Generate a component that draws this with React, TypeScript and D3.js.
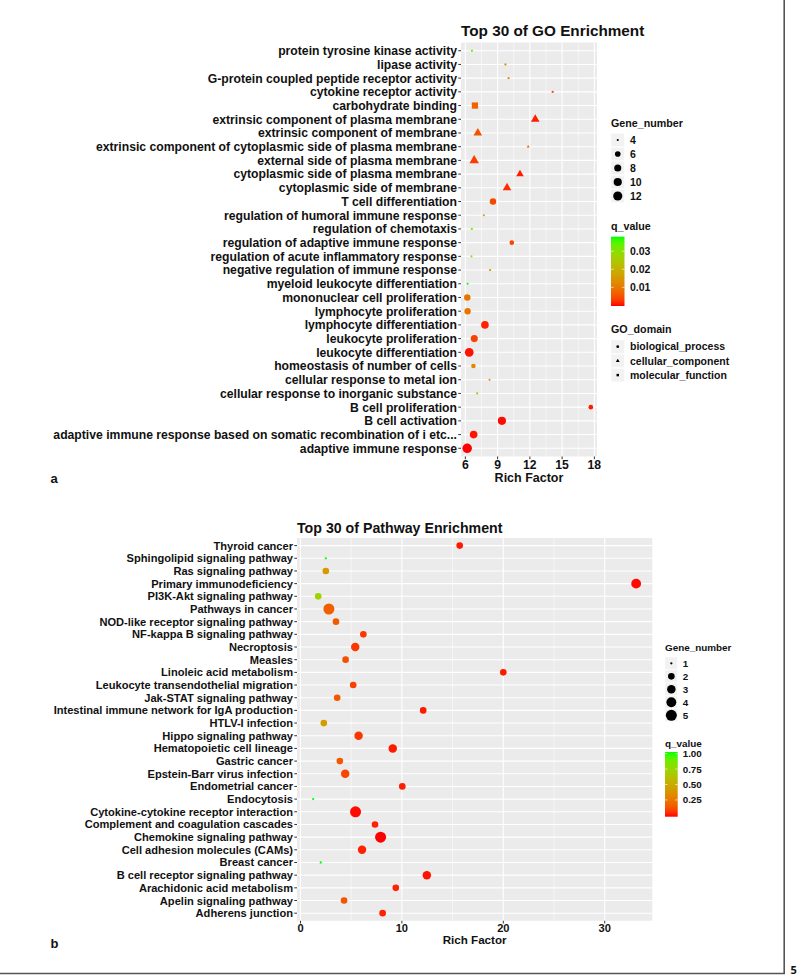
import React from "react";
import * as d3 from "d3";

// ---------- Panel a: GO enrichment (listed top to bottom) ----------
const goTerms = [
  "protein tyrosine kinase activity",
  "lipase activity",
  "G-protein coupled peptide receptor activity",
  "cytokine receptor activity",
  "carbohydrate binding",
  "extrinsic component of plasma membrane",
  "extrinsic component of membrane",
  "extrinsic component of cytoplasmic side of plasma membrane",
  "external side of plasma membrane",
  "cytoplasmic side of plasma membrane",
  "cytoplasmic side of membrane",
  "T cell differentiation",
  "regulation of humoral immune response",
  "regulation of chemotaxis",
  "regulation of adaptive immune response",
  "regulation of acute inflammatory response",
  "negative regulation of immune response",
  "myeloid leukocyte differentiation",
  "mononuclear cell proliferation",
  "lymphocyte proliferation",
  "lymphocyte differentiation",
  "leukocyte proliferation",
  "leukocyte differentiation",
  "homeostasis of number of cells",
  "cellular response to metal ion",
  "cellular response to inorganic substance",
  "B cell proliferation",
  "B cell activation",
  "adaptive immune response based on somatic recombination of i etc...",
  "adaptive immune response",
];
const goRichFactor = [
  6.61, 9.73, 10.02, 14.12, 6.89, 12.5, 7.16, 11.84, 6.82, 11.08, 9.88, 8.57, 7.72, 6.6, 10.32,
  6.57, 8.3, 6.21, 6.18, 6.21, 7.82, 6.83, 6.36, 6.75, 8.25, 7.1, 17.67, 9.4, 6.77, 6.17,
];
const goGeneNumber = [
  4, 4, 4, 4, 8, 7, 7, 4, 8, 6, 7, 7, 4, 4, 5, 4, 4, 4, 7, 7, 9, 8, 11, 5, 4, 4, 5, 10, 9, 13,
];
const goQValue = [
  0.031, 0.0108, 0.011, 0.0035, 0.0068, 0.0013, 0.005, 0.0065, 0.003, 0.0012, 0.002, 0.004,
  0.0174, 0.031, 0.0038, 0.031, 0.0145, 0.0371, 0.0094, 0.0094, 0.0015, 0.0035, 0.0009, 0.0123,
  0.0145, 0.024, 0.0012, 0.0008, 0.001, 0.0006,
];
const goDomainOf = [
  "molecular_function", "molecular_function", "molecular_function", "molecular_function", "molecular_function",
  "cellular_component", "cellular_component", "cellular_component", "cellular_component", "cellular_component", "cellular_component",
  "biological_process", "biological_process", "biological_process", "biological_process", "biological_process",
  "biological_process", "biological_process", "biological_process", "biological_process", "biological_process",
  "biological_process", "biological_process", "biological_process", "biological_process", "biological_process",
  "biological_process", "biological_process", "biological_process", "biological_process",
];
const goDomains = ["biological_process", "cellular_component", "molecular_function"];
const goXTicks = [6, 9, 12, 15, 18];
const goSizeBreaks = [4, 6, 8, 10, 12];
const goQBreaks = [0.01, 0.02, 0.03];
const goQLabels = ["0.01", "0.02", "0.03"];

// ---------- Panel b: Pathway enrichment (listed top to bottom) ----------
const pathTerms = [
  "Thyroid cancer",
  "Sphingolipid signaling pathway",
  "Ras signaling pathway",
  "Primary immunodeficiency",
  "PI3K-Akt signaling pathway",
  "Pathways in cancer",
  "NOD-like receptor signaling pathway",
  "NF-kappa B signaling pathway",
  "Necroptosis",
  "Measles",
  "Linoleic acid metabolism",
  "Leukocyte transendothelial migration",
  "Jak-STAT signaling pathway",
  "Intestinal immune network for IgA production",
  "HTLV-I infection",
  "Hippo signaling pathway",
  "Hematopoietic cell lineage",
  "Gastric cancer",
  "Epstein-Barr virus infection",
  "Endometrial cancer",
  "Endocytosis",
  "Cytokine-cytokine receptor interaction",
  "Complement and coagulation cascades",
  "Chemokine signaling pathway",
  "Cell adhesion molecules (CAMs)",
  "Breast cancer",
  "B cell receptor signaling pathway",
  "Arachidonic acid metabolism",
  "Apelin signaling pathway",
  "Adherens junction",
];
const pathRichFactor = [
  15.7, 2.5, 2.5, 33.1, 1.75, 2.8, 3.5, 6.2, 5.4, 4.45, 20.0, 5.2, 3.62, 12.1, 2.3, 5.73, 9.1,
  3.88, 4.41, 10.04, 1.25, 5.43, 7.35, 7.9, 6.07, 2.0, 12.46, 9.4, 4.3, 8.1,
];
const pathGeneNumber = [
  2, 1, 2, 4, 2, 5, 2, 2, 3, 2, 2, 2, 2, 2, 2, 3, 3, 2, 3, 2, 1, 5, 2, 5, 3, 1, 3, 2, 2, 2,
];
const pathQValue = [
  0.02, 1.0, 0.4, 0.01, 0.72, 0.17, 0.15, 0.06, 0.06, 0.11, 0.02, 0.08, 0.14, 0.02, 0.42, 0.06,
  0.02, 0.14, 0.09, 0.025, 1.0, 0.01, 0.03, 0.005, 0.03, 1.0, 0.015, 0.03, 0.13, 0.03,
];
const pathXTicks = [0, 10, 20, 30];
const pathSizeBreaks = [1, 2, 3, 4, 5];
const pathQBreaks = [0.25, 0.5, 0.75, 1.0];
const pathQLabels = ["0.25", "0.50", "0.75", "1.00"];

const FONT = "'Liberation Sans', Arial, Helvetica, sans-serif";

type PanelCfg = {
  id: string;
  terms: string[];
  rich: number[];
  genes: number[];
  qv: number[];
  domainOf?: string[];
  domains?: string[];
  xTicks: number[];
  sizeBreaks: number[];
  qBreaks: number[];
  qLabels: string[];
  title: string;
  left: number; right: number; top: number; bottom: number;
  labelSize: number; titleSize: number; titleY: number;
  tickY: number; axisTitleY: number; axisTitleSize: number;
  k: number; kOff: number;
  legX: number; legLabelX: number; legFont: number; legTitleFont: number;
  geneTitleY: number; geneY0: number; geneStep: number; keySize: number;
  qTitleY: number; barY: number; barH: number; barW: number;
  domTitleY?: number; domY0?: number; domStep?: number;
};

function shapeFor(domain: string | undefined) {
  if (domain === "cellular_component") return d3.symbolTriangle;
  if (domain === "molecular_function") return d3.symbolSquare;
  return d3.symbolCircle;
}

function Panel({ c }: { c: PanelCfg }) {
  const ext = d3.extent(c.rich) as [number, number];
  const pad = (ext[1] - ext[0]) * 0.05;
  const x = d3.scaleLinear().domain([ext[0] - pad, ext[1] + pad]).range([c.left, c.right]);
  const y = d3.scalePoint<string>().domain(c.terms).range([c.top, c.bottom]).padding(0.6);
  const gExt = d3.extent(c.genes) as [number, number];
  const gRes = d3.scaleLinear().domain(gExt).range([0, 1]).clamp(true);
  const sizeS = d3.scaleSqrt().domain([0, 1]).range([1, 6]);
  const radius = (g: number) => (c.k * (sizeS(gRes(g)) + c.kOff)) / 2;
  const qExt = d3.extent(c.qv) as [number, number];
  const color = d3
    .scaleLinear<string>()
    .domain(qExt)
    .range(["#FF0000", "#00FF00"])
    .interpolate(d3.interpolateLab)
    .clamp(true);

  const minors: number[] = [];
  const step = c.xTicks[1] - c.xTicks[0];
  const dom = x.domain();
  for (let v = c.xTicks[0] - step / 2; v <= dom[1]; v += step) {
    if (v >= dom[0]) minors.push(v);
  }

  const symbolPath = (domain: string | undefined, r: number) =>
    d3.symbol().type(shapeFor(domain)).size(Math.PI * r * r)() as string;

  // colourbar
  const barPos = (v: number) =>
    c.barY + c.barH - c.barH * (0.025 + (0.95 * (v - qExt[0])) / (qExt[1] - qExt[0]));
  const gradStops = d3.range(0, 21).map((i) => {
    const off = i / 20;
    const v = qExt[0] + ((off - 0.025) / 0.95) * (qExt[1] - qExt[0]);
    return { off, col: color(Math.max(qExt[0], Math.min(qExt[1], v))) };
  });
  const gradId = `grad-${c.id}`;
  const midX = (c.left + c.right) / 2;

  return (
    <g fontFamily={FONT} fontWeight="bold">
      <defs>
        <linearGradient id={gradId} x1="0" y1="1" x2="0" y2="0">
          {gradStops.map((s, i) => (
            <stop key={i} offset={s.off} stopColor={s.col} />
          ))}
        </linearGradient>
      </defs>
      {/* panel background */}
      <rect x={c.left} y={c.top} width={c.right - c.left} height={c.bottom - c.top} fill="#EBEBEB" />
      {minors.map((v) => (
        <line key={"mn" + v} x1={x(v)} x2={x(v)} y1={c.top} y2={c.bottom} stroke="#FFFFFF" strokeWidth={0.55} />
      ))}
      {c.xTicks.map((v) => (
        <line key={"mj" + v} x1={x(v)} x2={x(v)} y1={c.top} y2={c.bottom} stroke="#FFFFFF" strokeWidth={1.1} />
      ))}
      {c.terms.map((t) => (
        <line key={"h" + t} x1={c.left} x2={c.right} y1={y(t)} y2={y(t)} stroke="#FFFFFF" strokeWidth={1.1} />
      ))}
      {/* y axis ticks and labels */}
      {c.terms.map((t) => (
        <g key={"yl" + t}>
          <line x1={c.left - 2.7} x2={c.left} y1={y(t)} y2={y(t)} stroke="#333333" strokeWidth={1} />
          <text x={c.left - 4} y={y(t)} dy="0.36em" textAnchor="end" fontSize={c.labelSize} fill="#111111">
            {t}
          </text>
        </g>
      ))}
      {/* x axis */}
      {c.xTicks.map((v) => (
        <g key={"xt" + v}>
          <line x1={x(v)} x2={x(v)} y1={c.bottom} y2={c.bottom + 2.7} stroke="#333333" strokeWidth={1} />
          <text x={x(v)} y={c.tickY} textAnchor="middle" fontSize={c.labelSize} fill="#111111">
            {v}
          </text>
        </g>
      ))}
      <text x={midX} y={c.axisTitleY} textAnchor="middle" fontSize={c.axisTitleSize} fill="#111111">
        Rich Factor
      </text>
      <text x={c.left} y={c.titleY} fontSize={c.titleSize} fill="#111111">
        {c.title}
      </text>
      {/* points */}
      {c.terms.map((t, i) => {
        const r = radius(c.genes[i]);
        const d = c.domainOf ? c.domainOf[i] : undefined;
        const col = color(c.qv[i]);
        if (!d || d === "biological_process")
          return <circle key={"p" + t} cx={x(c.rich[i])} cy={y(t)} r={r} fill={col} />;
        return (
          <path
            key={"p" + t}
            transform={`translate(${x(c.rich[i])},${y(t)})`}
            d={symbolPath(d, r)}
            fill={col}
          />
        );
      })}
      {/* Gene_number legend */}
      <text x={c.legX} y={c.geneTitleY} fontSize={c.legTitleFont} fill="#111111">
        Gene_number
      </text>
      {c.sizeBreaks.map((g, i) => {
        const cy = c.geneY0 + i * c.geneStep;
        return (
          <g key={"gl" + g}>
            <rect x={c.legX} y={cy - c.keySize / 2} width={c.keySize} height={c.keySize} fill="#F2F2F2" stroke="#FFFFFF" strokeWidth={0.5} />
            <circle cx={c.legX + c.keySize / 2} cy={cy} r={radius(g)} fill="#000000" />
            <text x={c.legLabelX} y={cy} dy="0.36em" fontSize={c.legFont} fill="#111111">
              {g}
            </text>
          </g>
        );
      })}
      {/* q_value legend */}
      <text x={c.legX} y={c.qTitleY} fontSize={c.legTitleFont} fill="#111111">
        q_value
      </text>
      <rect x={c.legX} y={c.barY} width={c.barW} height={c.barH} fill={`url(#${gradId})`} />
      {c.qBreaks.map((v, i) => (
        <g key={"qb" + v}>
          <line x1={c.legX} x2={c.legX + c.barW / 5} y1={barPos(v)} y2={barPos(v)} stroke="#FFFFFF" strokeWidth={0.6} />
          <line x1={c.legX + c.barW} x2={c.legX + c.barW * 0.8} y1={barPos(v)} y2={barPos(v)} stroke="#FFFFFF" strokeWidth={0.6} />
          <text x={c.legLabelX} y={barPos(v)} dy="0.36em" fontSize={c.legFont} fill="#111111">
            {c.qLabels[i]}
          </text>
        </g>
      ))}
      {/* GO_domain legend */}
      {c.domains && c.domTitleY !== undefined && (
        <g>
          <text x={c.legX} y={c.domTitleY} fontSize={c.legTitleFont} fill="#111111">
            GO_domain
          </text>
          {c.domains.map((d, i) => {
            const cy = (c.domY0 as number) + i * (c.domStep as number);
            return (
              <g key={"dl" + d}>
                <rect x={c.legX} y={cy - c.keySize / 2} width={c.keySize} height={c.keySize} fill="#F2F2F2" stroke="#FFFFFF" strokeWidth={0.5} />
                <path transform={`translate(${c.legX + c.keySize / 2},${cy})`} d={symbolPath(d, 1.4)} fill="#000000" />
                <text x={c.legLabelX} y={cy} dy="0.36em" fontSize={c.legFont} fill="#111111">
                  {d}
                </text>
              </g>
            );
          })}
        </g>
      )}
    </g>
  );
}

const panelA: PanelCfg = {
  id: "a",
  terms: goTerms, rich: goRichFactor, genes: goGeneNumber, qv: goQValue,
  domainOf: goDomainOf, domains: goDomains,
  xTicks: goXTicks, sizeBreaks: goSizeBreaks, qBreaks: goQBreaks, qLabels: goQLabels,
  title: "Top 30 of GO Enrichment",
  left: 461, right: 597, top: 42.5, bottom: 456.5,
  labelSize: 12.2, titleSize: 15.3, titleY: 35.5,
  tickY: 469.3, axisTitleY: 482.3, axisTitleSize: 12.5,
  k: 1.48, kOff: 0.45,
  legX: 611, legLabelX: 630, legFont: 10.5, legTitleFont: 10.7,
  geneTitleY: 126.8, geneY0: 140, geneStep: 14, keySize: 13.5,
  qTitleY: 230, barY: 236.7, barH: 69.3, barW: 13.5,
  domTitleY: 333, domY0: 346.7, domStep: 14.2,
};

const panelB: PanelCfg = {
  id: "b",
  terms: pathTerms, rich: pathRichFactor, genes: pathGeneNumber, qv: pathQValue,
  xTicks: pathXTicks, sizeBreaks: pathSizeBreaks, qBreaks: pathQBreaks, qLabels: pathQLabels,
  title: "Top 30 of Pathway Enrichment",
  left: 297, right: 652.3, top: 538, bottom: 920.8,
  labelSize: 11.1, titleSize: 14.2, titleY: 532.7,
  tickY: 931.7, axisTitleY: 944.3, axisTitleSize: 11.6,
  k: 1.75, kOff: 0.3,
  legX: 665, legLabelX: 682.7, legFont: 9.8, legTitleFont: 9.9,
  geneTitleY: 650.5, geneY0: 663.3, geneStep: 13, keySize: 12.7,
  qTitleY: 746.5, barY: 752, barH: 64.7, barW: 12.7,
};

export default function App() {
  return (
    <svg
      width={798}
      height={975}
      viewBox="0 0 798 975"
      style={{ position: "absolute", left: 0, top: 0, background: "#FFFFFF" }}
    >
      <rect x={0} y={0} width={798} height={975} fill="#FFFFFF" />
      <Panel c={panelA} />
      <Panel c={panelB} />
      <text x={50.5} y={483} fontFamily={FONT} fontWeight="bold" fontSize={13} fill="#111111">
        a
      </text>
      <text x={50.5} y={948} fontFamily={FONT} fontWeight="bold" fontSize={13} fill="#111111">
        b
      </text>
      <line x1={784.2} x2={784.2} y1={0} y2={973.5} stroke="#555555" strokeWidth={1.6} />
      <line x1={0} x2={785} y1={973.5} y2={973.5} stroke="#555555" strokeWidth={1.6} />
      <text x={790.5} y={973.5} fontFamily="'Open Sans', sans-serif" fontWeight="bold" fontSize={11} fill="#111111">
        5
      </text>
    </svg>
  );
}
